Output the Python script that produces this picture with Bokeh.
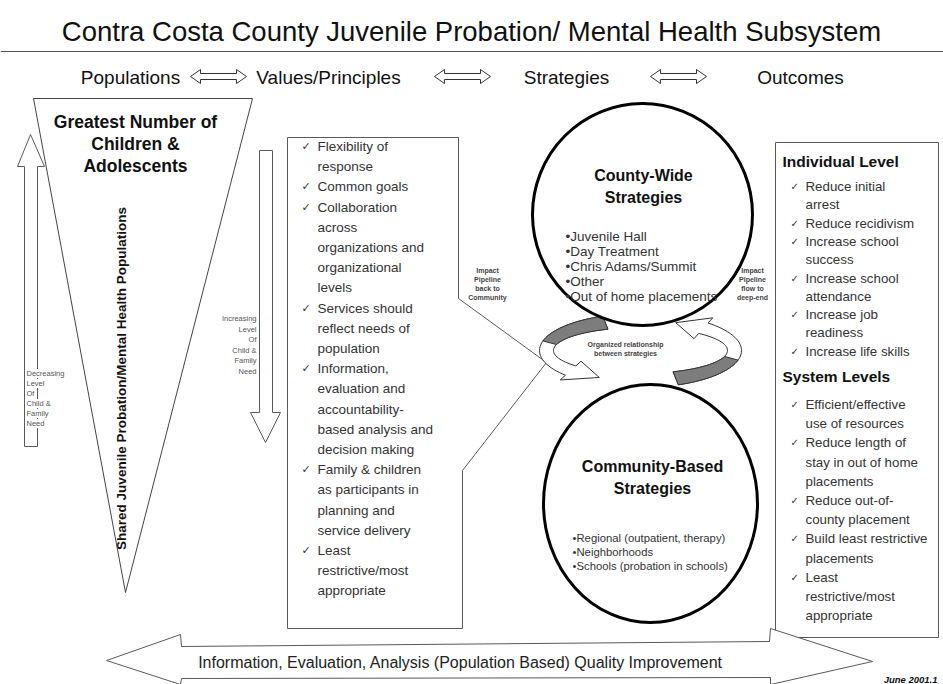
import math
import numpy as np
from bokeh.plotting import figure
from bokeh.models import Range1d
from bokeh.core.properties import value
from bokeh.embed import file_html
from bokeh.resources import INLINE

# ---------------- content ----------------
TITLE = "Contra Costa County Juvenile Probation/ Mental Health Subsystem"
HEADERS = ["Populations", "Values/Principles", "Strategies", "Outcomes"]
POP_TITLE = ["Greatest Number of", "Children &", "Adolescents"]
POP_AXIS = "Shared Juvenile Probation/Mental Health Populations"
DECREASING = ["Decreasing", "Level", "Of", "Child &", "Family", "Need"]
INCREASING = ["Increasing", "Level", "Of", "Child &", "Family", "Need"]
VALUES = [
    ["Flexibility of", "response"],
    ["Common goals"],
    ["Collaboration", "across", "organizations and", "organizational", "levels"],
    ["Services should", "reflect needs of", "population"],
    ["Information,", "evaluation and", "accountability-", "based analysis and", "decision making"],
    ["Family & children", "as participants in", "planning and", "service delivery"],
    ["Least", "restrictive/most", "appropriate"],
]
COUNTY_TITLE = ["County-Wide", "Strategies"]
COUNTY_ITEMS = ["Juvenile Hall", "Day Treatment", "Chris Adams/Summit", "Other", "Out of home placements"]
COMMUNITY_TITLE = ["Community-Based", "Strategies"]
COMMUNITY_ITEMS = ["Regional (outpatient, therapy)", "Neighborhoods", "Schools (probation in schools)"]
PIPE_BACK = ["Impact", "Pipeline", "back to", "Community"]
PIPE_DEEP = ["Impact", "Pipeline", "flow to", "deep-end"]
RELATION = ["Organized relationship", "between strategies"]
INDIVIDUAL_HEAD = "Individual Level"
INDIVIDUAL = [["Reduce initial", "arrest"], ["Reduce recidivism"], ["Increase school", "success"],
              ["Increase school", "attendance"], ["Increase job", "readiness"], ["Increase life skills"]]
SYSTEM_HEAD = "System Levels"
SYSTEM = [["Efficient/effective", "use of resources"], ["Reduce length of", "stay in out of home", "placements"],
          ["Reduce out-of-", "county placement"], ["Build least restrictive", "placements"],
          ["Least", "restrictive/most", "appropriate"]]
FOOTER = "Information, Evaluation, Analysis (Population Based) Quality Improvement"
DATE = "June 2001.1"

# ---------------- figure ----------------
W, H = 943, 684
p = figure(width=W, height=H, x_range=Range1d(0, W), y_range=Range1d(H, 0),
           output_backend="svg", toolbar_location=None, x_axis_type=None, y_axis_type=None,
           min_border=0)
p.outline_line_color = None
p.background_fill_color = "white"

SANS = "Liberation Sans"
LINE = "#5a5a5a"
INK = "#2a2a2a"


def txt(x, y, t, size, align="left", style="normal", font=SANS, color=INK, angle=0.0, bg=None, baseline="middle"):
    xs = x if isinstance(x, list) else [x]
    ys = y if isinstance(y, list) else [y]
    ts = t if isinstance(t, list) else [t]
    kw = {}
    if bg is not None:
        kw["background_fill_color"] = bg
    p.text(xs, ys, text=ts, text_font=value(font), text_font_size=value(f"{size}px"),
           text_align=align, text_baseline=baseline, text_font_style=style, text_color=color,
           angle=angle, **kw)


def poly(pts, fill="white", line=LINE, lw=1.0):
    xs = [a for a, b in pts]
    ys = [b for a, b in pts]
    p.patch(xs, ys, fill_color=fill, line_color=line, line_width=lw)


def dbl_arrow(cx, cy, half, head, bh, hh):
    return [(cx - half, cy), (cx - half + head, cy - hh), (cx - half + head, cy - bh),
            (cx + half - head, cy - bh), (cx + half - head, cy - hh), (cx + half, cy),
            (cx + half - head, cy + hh), (cx + half - head, cy + bh), (cx - half + head, cy + bh),
            (cx - half + head, cy + hh)]


def ring_arrow(cx, cy, rx, ry, t0, t1, t_tip, w, hw):
    ts = np.radians(np.linspace(t0, t1, 40))
    outer = [(cx + (rx + w / 2) * math.cos(t), cy - (ry + w / 2) * math.sin(t)) for t in ts]
    inner = [(cx + (rx - w / 2) * math.cos(t), cy - (ry - w / 2) * math.sin(t)) for t in ts[::-1]]
    te, tt = math.radians(t1), math.radians(t_tip)
    head = [(cx + (rx + hw / 2) * math.cos(te), cy - (ry + hw / 2) * math.sin(te)),
            (cx + rx * math.cos(tt), cy - ry * math.sin(tt)),
            (cx + (rx - hw / 2) * math.cos(te), cy - (ry - hw / 2) * math.sin(te))]
    return outer + head + inner


def ring_band(cx, cy, rx, ry, t0, t1, w):
    ts = np.radians(np.linspace(t0, t1, 30))
    outer = [(cx + (rx + w / 2) * math.cos(t), cy - (ry + w / 2) * math.sin(t)) for t in ts]
    inner = [(cx + (rx - w / 2) * math.cos(t), cy - (ry - w / 2) * math.sin(t)) for t in ts[::-1]]
    return outer + inner


# ---------------- title & header ----------------
txt(471, 31, TITLE, 27.5, align="center", color="#111")
p.line([0, 943], [51, 51], line_color="#555", line_width=1.2)
head_x = [130, 328, 566, 800]
txt(head_x, [77] * 4, HEADERS, 19, align="center", color="#111")
for cx in (218, 462, 678):
    poly(dbl_arrow(cx, 76, 28, 10, 3, 7), line="#333")

# ---------------- populations ----------------
poly([(33, 98), (252, 98), (125, 592)], line="#444")
txt([135] * 3, [121, 143, 165], POP_TITLE, 17.5, align="center", style="bold", color="#111")
txt(121, 378, POP_AXIS, 13.5, align="center", style="bold", color="#111", angle=math.pi / 2)
# up arrow (left)
poly([(30, 134), (44, 166), (37, 166), (37, 446), (24, 446), (24, 166), (17, 166)])
txt([26] * 6, [373 + 10 * i for i in range(6)], DECREASING, 7.5, bg="white", color="#555")
# down arrow
poly([(259, 150), (272, 150), (272, 412), (280, 412), (265, 442), (250, 412), (259, 412)])
txt([256] * 6, [318 + 10.5 * i for i in range(6)], INCREASING, 7.5, align="right", color="#555")

# ---------------- values box (callout) ----------------
poly([(287, 137), (458, 137), (458, 298), (546, 362), (462, 470), (462, 628), (287, 628)])
vy, vx_chk, vx_txt = 146.0, 301, 317
chk_x, chk_y, lx, ly, lt = [], [], [], [], []
for grp in VALUES:
    chk_x.append(vx_chk); chk_y.append(vy)
    for line in grp:
        lx.append(vx_txt); ly.append(vy); lt.append(line)
        vy += 20.2
txt(chk_x, chk_y, ["\u2713"] * len(chk_x), 11, font="DejaVu Sans", color="#333")
txt(lx, ly, lt, 13.5, color="#333")

# ---------------- strategies ----------------
rcx, rcy, rrx, rry = 640, 350, 94, 30
poly(ring_arrow(rcx, rcy, rrx, rry, 112, 222, 244, 14, 28), line="#333")
poly(ring_band(rcx, rcy, rrx, rry, 112, 165, 14), fill="#7d7d7d", line="#333")
poly(ring_arrow(rcx, rcy, rrx, rry, -68, 48, 68, 14, 28), line="#333")
poly(ring_band(rcx, rcy, rrx, rry, -68, -15, 14), fill="#7d7d7d", line="#333")

p.ellipse([642, 650], [214, 503], width=[220, 214], height=[222, 238], fill_color="white",
          line_color="black", line_width=3)

txt([643, 643], [175, 197], COUNTY_TITLE, 16, align="center", style="bold", color="#111")
txt([565] * 5, [236 + 15 * i for i in range(5)], ["\u2022" + s for s in COUNTY_ITEMS], 13.5, color="#333")
txt([652, 652], [466, 488], COMMUNITY_TITLE, 16, align="center", style="bold", color="#111")
txt([572] * 3, [537 + 14 * i for i in range(3)], ["\u2022" + s for s in COMMUNITY_ITEMS], 11.3, color="#333")

txt([487] * 4, [270 + 9 * i for i in range(4)], PIPE_BACK, 7, align="center", style="bold", color="#444")
txt([752] * 4, [270 + 9 * i for i in range(4)], PIPE_DEEP, 7, align="center", style="bold", color="#444")
txt([625, 625], [344, 353], RELATION, 7, align="center", style="bold", color="#444")

# ---------------- outcomes ----------------
poly([(775, 142), (938, 142), (938, 637), (775, 637)])
txt(782, 161, INDIVIDUAL_HEAD, 15.5, style="bold", color="#111")
oy = 186.0
chk_x, chk_y, lx, ly, lt = [], [], [], [], []
for grp in INDIVIDUAL:
    chk_x.append(790); chk_y.append(oy)
    for line in grp:
        lx.append(805); ly.append(oy); lt.append(line)
        oy += 18.3
txt(782, 376, SYSTEM_HEAD, 15.5, style="bold", color="#111")
oy = 404.0
for grp in SYSTEM:
    chk_x.append(790); chk_y.append(oy)
    for line in grp:
        lx.append(805); ly.append(oy); lt.append(line)
        oy += 19.2
txt(chk_x, chk_y, ["\u2713"] * len(chk_x), 10, font="DejaVu Sans", color="#333")
txt(lx, ly, lt, 13.3, color="#333")

# ---------------- bottom arrow ----------------
poly([(106, 660), (180, 634), (181, 646), (769, 641), (770, 628), (872, 661), (770, 684),
      (770, 677), (181, 678), (180, 684)])
txt(460, 662, FOOTER, 16, align="center", color="#222")
txt(937, 679, DATE, 9.5, align="right", style="bold italic", color="#111")

open("out.html", "w").write(file_html(p, INLINE))
